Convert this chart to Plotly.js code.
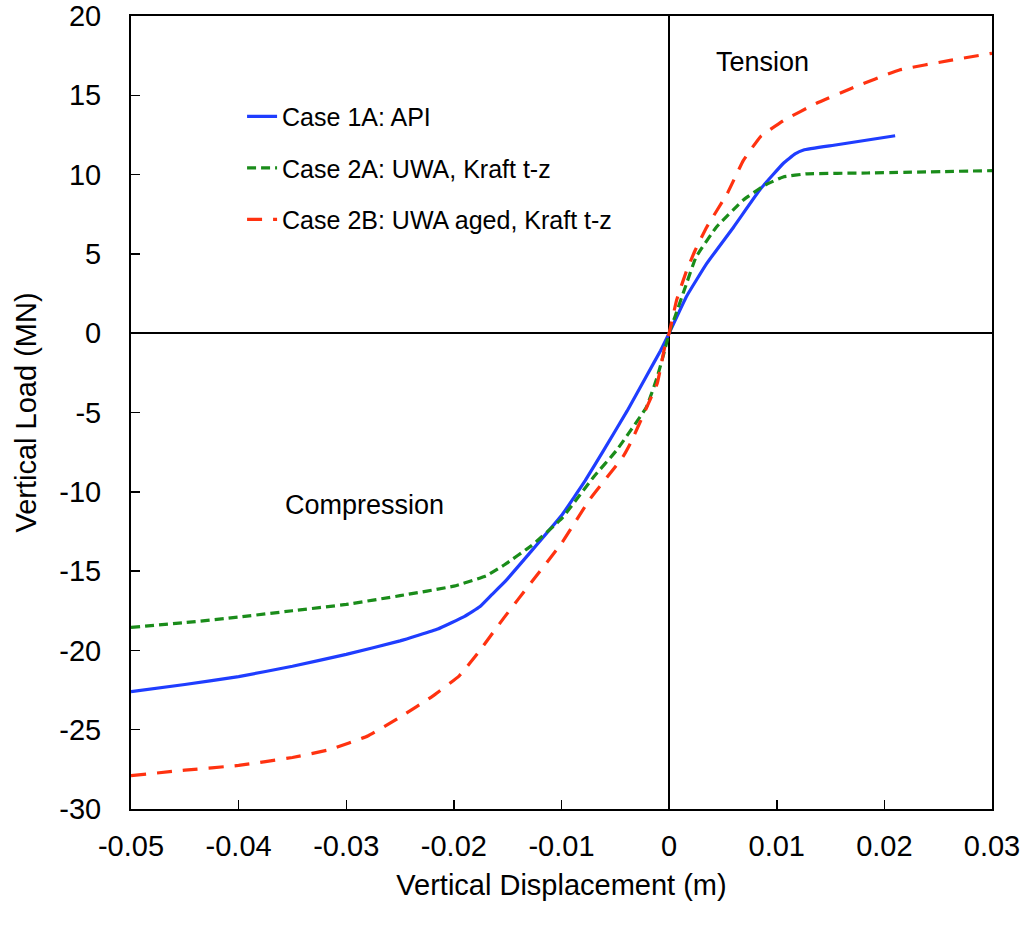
<!DOCTYPE html>
<html>
<head>
<meta charset="utf-8">
<script src="https://cdn.plot.ly/plotly-3.0.1.min.js"></script>
<style>html,body{margin:0;padding:0;background:#fff;}#chart{width:1026px;height:936px;}</style>
</head>
<body>
<div id="chart"></div>
<script>
// Case 1A: API
const apiX = [-0.05, -0.045, -0.04, -0.035, -0.03, -0.025, -0.0215, -0.019, -0.0176, -0.0165, -0.0153, -0.013, -0.01, -0.0078, -0.0061, -0.0039, -0.0021, -0.0008, 0, 0.0016, 0.0035, 0.006, 0.0085, 0.0106, 0.0117, 0.0125, 0.0153, 0.021];
const apiY = [-22.6, -22.15, -21.65, -21.0, -20.25, -19.4, -18.65, -17.85, -17.25, -16.5, -15.7, -13.9, -11.5, -9.3, -7.4, -4.9, -2.7, -1.1, 0, 2.3, 4.4, 6.7, 9.1, 10.7, 11.3, 11.55, 11.85, 12.45];

// Case 2A: UWA, Kraft t-z
const uwaX = [-0.05, -0.045, -0.04, -0.035, -0.03, -0.025, -0.02, -0.017, -0.0153, -0.0128, -0.01, -0.007, -0.0049, -0.0021, -0.0011, -0.0004, 0, 0.0006, 0.0015, 0.0025, 0.0044, 0.0069, 0.0088, 0.0106, 0.0128, 0.0184, 0.03];
const uwaY = [-18.55, -18.25, -17.9, -17.5, -17.1, -16.55, -15.95, -15.3, -14.6, -13.4, -11.7, -9.05, -7.4, -4.65, -2.75, -1.05, 0, 1.15, 2.9, 4.8, 6.7, 8.4, 9.3, 9.85, 10.05, 10.1, 10.25];

// Case 2B: UWA aged, Kraft t-z
const agedX = [-0.05, -0.045, -0.04, -0.035, -0.0315, -0.028, -0.025, -0.022, -0.0195, -0.0178, -0.0153, -0.0128, -0.01, -0.0074, -0.0043, -0.0036, -0.0022, -0.0011, -0.0004, 0, 0.0007, 0.0016, 0.0024, 0.0035, 0.0054, 0.0069, 0.0085, 0.0106, 0.0137, 0.0168, 0.0214, 0.0261, 0.03];
const agedY = [-27.9, -27.55, -27.25, -26.75, -26.25, -25.4, -24.2, -22.9, -21.6, -20.2, -17.9, -15.7, -13.25, -10.5, -7.8, -6.95, -4.85, -3.15, -0.85, 0, 2.1, 3.9, 5.2, 6.7, 8.8, 10.9, 12.4, 13.4, 14.5, 15.4, 16.6, 17.2, 17.65];

const seriesNames = ['Case 1A: API', 'Case 2A: UWA, Kraft t-z', 'Case 2B: UWA aged, Kraft t-z'];
const xTicks = [-0.05, -0.04, -0.03, -0.02, -0.01, 0, 0.01, 0.02, 0.03];
const xTickText = ['-0.05', '-0.04', '-0.03', '-0.02', '-0.01', '0', '0.01', '0.02', '0.03'];
const yTicks = [-30, -25, -20, -15, -10, -5, 0, 5, 10, 15, 20];
const yTickText = ['-30', '-25', '-20', '-15', '-10', '-5', '0', '5', '10', '15', '20'];

const FONT = 'Liberation Sans, Arial, sans-serif';

const traces = [
  {x: apiX, y: apiY, name: seriesNames[0], mode: 'lines', legendgroup: 'a',
   line: {color: '#1f3dff', width: 3.2, shape: 'spline', smoothing: 0.3}},
  {x: uwaX, y: uwaY, name: seriesNames[1], mode: 'lines', legendgroup: 'b',
   line: {color: '#1a8c1a', width: 3.2, dash: '9px,5px', shape: 'spline', smoothing: 0.3}},
  {x: agedX, y: agedY, name: seriesNames[2], mode: 'lines', legendgroup: 'c',
   line: {color: '#ff3210', width: 3.2, dash: '15px,11px', shape: 'spline', smoothing: 0.3}}
];

const layout = {
  width: 1026, height: 936,
  margin: {l: 131, r: 34, t: 16, b: 127},
  paper_bgcolor: '#fff', plot_bgcolor: '#fff',
  font: {family: FONT, color: '#000'},
  showlegend: true,
  legend: {x: 0.129, y: 0.902, xanchor: 'left', yanchor: 'top', bgcolor: 'rgba(0,0,0,0)',
           font: {size: 25, family: FONT}, tracegroupgap: 16},
  xaxis: {
    range: [-0.05, 0.03], tickvals: xTicks, ticktext: xTickText,
    ticks: 'inside', ticklen: 9, tickwidth: 1.5, tickcolor: '#000',
    showline: true, linecolor: '#000', linewidth: 2, mirror: true,
    showgrid: false, zeroline: true, zerolinecolor: '#000', zerolinewidth: 1.5,
    tickfont: {size: 29, family: FONT}, ticklabelstandoff: 10,
    title: {text: 'Vertical Displacement (m)', font: {size: 29, family: FONT}, standoff: 14}
  },
  yaxis: {
    range: [-30, 20], tickvals: yTicks, ticktext: yTickText,
    ticks: 'inside', ticklen: 9, tickwidth: 1.5, tickcolor: '#000',
    showline: true, linecolor: '#000', linewidth: 2, mirror: true,
    showgrid: false, zeroline: true, zerolinecolor: '#000', zerolinewidth: 1.5,
    tickfont: {size: 29, family: FONT}, ticklabelstandoff: 22,
    title: {text: 'Vertical Load (MN)', font: {size: 29, family: FONT}, standoff: 14}
  },
  annotations: [
    {x: 0.0087, y: 17.1, xref: 'x', yref: 'y', text: 'Tension', showarrow: false,
     font: {size: 27, family: FONT}},
    {x: -0.0283, y: -10.85, xref: 'x', yref: 'y', text: 'Compression', showarrow: false,
     font: {size: 27, family: FONT}}
  ]
};

Plotly.newPlot('chart', traces, layout, {displayModeBar: false, staticPlot: true});
</script>
</body>
</html>
